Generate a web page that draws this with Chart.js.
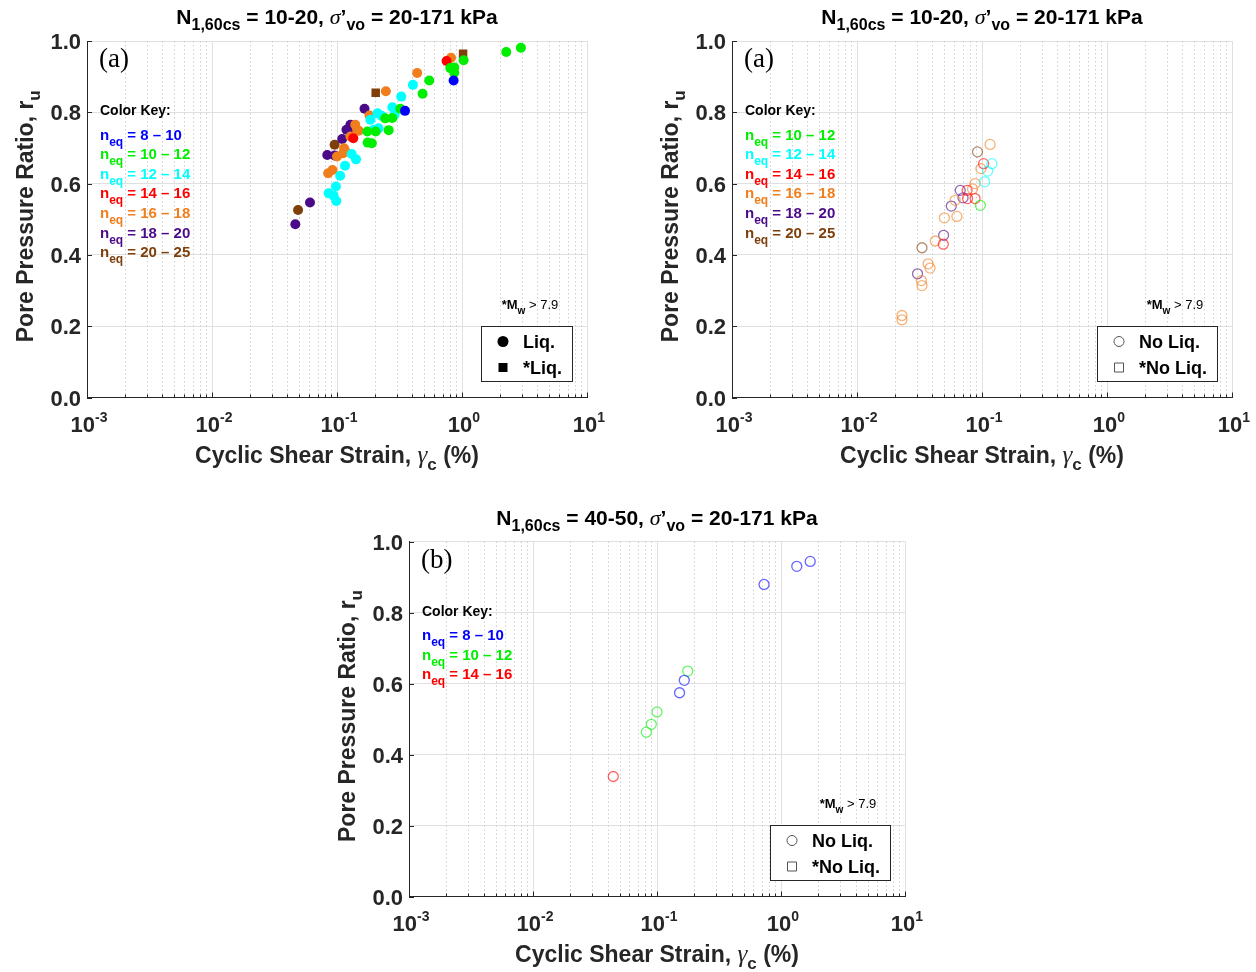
<!DOCTYPE html>
<html>
<head>
<meta charset="utf-8">
<script src="https://cdn.jsdelivr.net/npm/chart.js@4.4.1/dist/chart.umd.min.js"></script>
<style>
  html, body { margin: 0; padding: 0; background: #fff; }
  #wrap { position: relative; width: 1256px; height: 972px; }
  #wrap canvas { position: absolute; left: 0; top: 0; }
</style>
</head>
<body>
<div id="wrap">
  <canvas id="panelA" width="1256" height="972"></canvas>
  <canvas id="panelB" width="1256" height="972"></canvas>
  <canvas id="panelC" width="1256" height="972"></canvas>
</div>
<script>
// n_eq ranges and their colours
const neqLabels = ['8 \u2013 10', '10 \u2013 12', '12 \u2013 14', '14 \u2013 16', '16 \u2013 18', '18 \u2013 20', '20 \u2013 25'];
const neqColors = ['#0000ff', '#00ee00', '#00ffff', '#ff0000', '#f17e1c', '#4b0a88', '#7e3f0b'];

// axis ticks
const xTickValues = [0.001, 0.01, 0.1, 1, 10];
const xTickExponents = ['-3', '-2', '-1', '0', '1'];
const yTickValues = [0, 0.2, 0.4, 0.6, 0.8, 1.0];
const yTickLabels = ['0.0', '0.2', '0.4', '0.6', '0.8', '1.0'];

// N1,60cs = 10-20, liquefied sites (strain in %, ru)
const liq8to10Strain = [0.857, 0.35];
const liq8to10Ru = [0.889, 0.804];
const liq10to12Strain = [2.96, 2.26, 1.03, 0.806, 0.867, 0.867, 0.547, 0.484, 0.321, 0.277, 0.243, 0.259, 0.175, 0.204, 0.176, 0.190];
const liq10to12Ru = [0.981, 0.969, 0.946, 0.924, 0.926, 0.911, 0.889, 0.852, 0.810, 0.784, 0.783, 0.750, 0.746, 0.746, 0.715, 0.713];
const liq12to14Strain = [0.405, 0.327, 0.277, 0.289, 0.211, 0.228, 0.185, 0.215, 0.197, 0.131, 0.142, 0.116, 0.106, 0.098, 0.0857, 0.094, 0.0987];
const liq12to14Ru = [0.877, 0.844, 0.814, 0.793, 0.797, 0.790, 0.779, 0.755, 0.751, 0.683, 0.668, 0.650, 0.622, 0.592, 0.573, 0.566, 0.551];
const liq14to16Strain = [0.753, 0.135];
const liq14to16Ru = [0.944, 0.727];
const liq16to18Strain = [0.817, 0.438, 0.246, 0.182, 0.140, 0.145, 0.149, 0.128, 0.114, 0.117, 0.112, 0.100, 0.092, 0.085];
const liq16to18Ru = [0.953, 0.910, 0.859, 0.791, 0.765, 0.751, 0.748, 0.732, 0.699, 0.690, 0.685, 0.676, 0.638, 0.629];
const liq18to20Strain = [0.166, 0.128, 0.125, 0.119, 0.110, 0.0836, 0.0957, 0.0608, 0.0464];
const liq18to20Ru = [0.810, 0.765, 0.753, 0.751, 0.725, 0.680, 0.679, 0.547, 0.486];
const liq20to25Strain = [0.0957, 0.0488];
const liq20to25Ru = [0.709, 0.526];
// Mw > 7.9 events
const liqStar20to25Strain = [1.02, 0.204];
const liqStar20to25Ru = [0.964, 0.855];

// N1,60cs = 10-20, no liquefaction
const noLiq10to12Strain = [0.097];
const noLiq10to12Ru = [0.539];
const noLiq12to14Strain = [0.120, 0.111, 0.105];
const noLiq12to14Ru = [0.656, 0.635, 0.605];
const noLiq14to16Strain = [0.103, 0.076, 0.0767, 0.088, 0.049];
const noLiq14to16Ru = [0.656, 0.581, 0.558, 0.558, 0.430];
const noLiq16to18Strain = [0.116, 0.098, 0.088, 0.084, 0.061, 0.050, 0.063, 0.0423, 0.0371, 0.0384, 0.0327, 0.0331, 0.0229, 0.0229];
const noLiq16to18Ru = [0.710, 0.642, 0.600, 0.585, 0.553, 0.504, 0.508, 0.439, 0.375, 0.363, 0.328, 0.314, 0.230, 0.218];
const noLiq18to20Strain = [0.067, 0.0705, 0.0568, 0.0493, 0.0305];
const noLiq18to20Ru = [0.581, 0.560, 0.537, 0.455, 0.347];
const noLiq20to25Strain = [0.092, 0.0331];
const noLiq20to25Ru = [0.689, 0.420];

// N1,60cs = 40-50, no liquefaction
const dense8to10Strain = [0.73, 1.34, 1.72, 0.166, 0.152];
const dense8to10Ru = [0.879, 0.930, 0.944, 0.609, 0.574];
const dense10to12Strain = [0.177, 0.100, 0.090, 0.082];
const dense10to12Ru = [0.635, 0.520, 0.485, 0.463];
const dense14to16Strain = [0.0444];
const dense14to16Ru = [0.338];

const W = 1256, H = 972;
const SANS = '"Liberation Sans", Arial, sans-serif';
const SERIF = '"Liberation Serif", "Times New Roman", serif';
const INK = '#262626';

function font(size, opts) {
  opts = opts || {};
  return (opts.italic ? 'italic ' : '') + (opts.weight || 'bold') + ' ' + size + 'px ' + (opts.family || SANS);
}

// draws a row of text pieces (normal / sub / superscript) side by side
function drawRuns(ctx, runs, x, y, align) {
  let total = 0;
  runs.forEach(r => { ctx.font = r.font; r.w = ctx.measureText(r.t).width; total += r.w; });
  let cx = align === 'center' ? x - total / 2 : (align === 'right' ? x - total : x);
  ctx.textAlign = 'left';
  ctx.textBaseline = 'alphabetic';
  runs.forEach(r => {
    ctx.font = r.font;
    ctx.fillStyle = r.color || INK;
    ctx.fillText(r.t, cx, y + (r.dy || 0));
    cx += r.w;
  });
  return total;
}

function withAlpha(hex, a) {
  const n = parseInt(hex.slice(1), 16);
  return 'rgba(' + (n >> 16) + ',' + ((n >> 8) & 255) + ',' + (n & 255) + ',' + a + ')';
}

function group(strain, ru, colorIdx, square, open) {
  const c = neqColors[colorIdx];
  return {
    data: strain.map((v, i) => ({ x: v, y: ru[i] })),
    pointStyle: square ? 'rect' : 'circle',
    pointRadius: square ? 6 : 5,
    pointBackgroundColor: open ? 'rgba(0,0,0,0)' : c,
    pointBorderColor: open ? withAlpha(c, 0.6) : c,
    pointBorderWidth: open ? 1.3 : 0,
    showLine: false
  };
}

function titleRuns(nRange) {
  return [
    { t: 'N', font: font(21), color: '#000' },
    { t: '1,60cs', font: font(16), color: '#000', dy: 6 },
    { t: ' = ' + nRange + ', ', font: font(21), color: '#000' },
    { t: '\u03c3', font: font(22, { italic: true, weight: 'normal', family: SERIF }), color: '#000' },
    { t: '\u2019', font: font(21), color: '#000' },
    { t: 'vo', font: font(16), color: '#000', dy: 6 },
    { t: ' = 20-171 kPa', font: font(21), color: '#000' }
  ];
}

// text, ticks, key and legend around each panel
function makeDecor(cfg) {
  return {
    id: 'decor',
    beforeDatasetsDraw(chart) {
      const { ctx, chartArea: a, scales: { x } } = chart;
      ctx.save();
      ctx.strokeStyle = '#cfcfcf';
      ctx.lineWidth = 1;
      ctx.setLineDash([1.5, 2.5]);
      xTickValues.slice(0, -1).forEach(d => {
        for (let m = 2; m <= 9; m++) {
          const px = Math.round(x.getPixelForValue(d * m)) + 0.5;
          ctx.beginPath(); ctx.moveTo(px, a.top); ctx.lineTo(px, a.bottom - 1); ctx.stroke();
        }
      });
      ctx.restore();
    },
    afterDraw(chart) {
      const { ctx, chartArea: a, scales: { x, y } } = chart;
      const midX = (a.left + a.right) / 2, midY = (a.top + a.bottom) / 2;
      ctx.save();

      // inward tick marks
      ctx.strokeStyle = INK;
      ctx.lineWidth = 1;
      y.ticks.forEach(t => {
        const py = Math.round(y.getPixelForValue(t.value)) + 0.5;
        ctx.beginPath(); ctx.moveTo(a.left, py); ctx.lineTo(a.left + 5, py); ctx.stroke();
      });
      xTickValues.forEach((d, i) => {
        for (let m = 1; m <= (i < xTickValues.length - 1 ? 9 : 1); m++) {
          const px = Math.round(x.getPixelForValue(d * m)) + 0.5;
          ctx.beginPath(); ctx.moveTo(px, a.bottom); ctx.lineTo(px, a.bottom - (m === 1 ? 5 : 3)); ctx.stroke();
        }
      });

      // tick labels
      y.ticks.forEach((t, i) => {
        drawRuns(ctx, [{ t: yTickLabels[i], font: font(22) }], a.left - 6, y.getPixelForValue(t.value) + 8, 'right');
      });
      x.ticks.forEach((t, i) => {
        drawRuns(ctx, [
          { t: '10', font: font(22) },
          { t: xTickExponents[i], font: font(14) , dy: -10 }
        ], x.getPixelForValue(t.value) + 2, a.bottom + 34, 'center');
      });

      // title and axis titles
      drawRuns(ctx, titleRuns(cfg.nRange), midX, a.top - 17, 'center');
      drawRuns(ctx, [
        { t: 'Cyclic Shear Strain, ', font: font(23) },
        { t: '\u03b3', font: font(25, { italic: true, weight: 'normal', family: SERIF }) },
        { t: 'c', font: font(17), dy: 7 },
        { t: ' (%)', font: font(23) }
      ], midX, a.bottom + 65, 'center');
      ctx.save();
      ctx.translate(a.left - 54, midY - 3);
      ctx.rotate(-Math.PI / 2);
      drawRuns(ctx, [
        { t: 'Pore Pressure Ratio, r', font: font(23) },
        { t: 'u', font: font(17), dy: 7 }
      ], 0, 0, 'center');
      ctx.restore();

      // panel letter
      drawRuns(ctx, [{ t: cfg.letter, font: font(27, { weight: 'normal', family: SERIF }), color: '#000' }], a.left + 12, a.top + 26, 'left');

      // colour key
      drawRuns(ctx, [{ t: 'Color Key:', font: font(14), color: '#000' }], a.left + 13, a.top + 74, 'left');
      cfg.keys.forEach((k, i) => {
        const c = neqColors[k];
        drawRuns(ctx, [
          { t: 'n', font: font(15), color: c },
          { t: 'eq', font: font(12), color: c, dy: 6 },
          { t: ' = ' + neqLabels[k], font: font(15), color: c }
        ], a.left + 13, a.top + 98.5 + i * 19.6, 'left');
      });

      // magnitude note
      drawRuns(ctx, [
        { t: '*M', font: font(13), color: '#000' },
        { t: 'w', font: font(10), color: '#000', dy: 5 },
        { t: ' > 7.9', font: font(13, { weight: 'normal' }), color: '#000' }
      ], a.right - 57, a.bottom - 89, 'center');

      // marker legend
      ctx.font = font(18);
      const textW = Math.max(...cfg.legend.map(e => ctx.measureText(e.text).width));
      const boxR = a.right - 15, boxL = boxR - 42 - textW - 10, boxT = a.bottom - 72, boxB = a.bottom - 17;
      ctx.fillStyle = '#fff';
      ctx.fillRect(boxL, boxT, boxR - boxL, boxB - boxT);
      ctx.strokeStyle = INK;
      ctx.lineWidth = 1;
      ctx.strokeRect(Math.round(boxL) + 0.5, Math.round(boxT) + 0.5, Math.round(boxR - boxL), Math.round(boxB - boxT));
      cfg.legend.forEach((e, i) => {
        const cy = boxT + 16 + i * 26, mx = boxL + 22;
        ctx.beginPath();
        if (e.square) ctx.rect(mx - 4.5, cy - 4.5, 9, 9);
        else ctx.arc(mx, cy, e.filled ? 5.5 : 5, 0, Math.PI * 2);
        if (e.filled) { ctx.fillStyle = '#000'; ctx.fill(); }
        else { ctx.strokeStyle = '#555'; ctx.lineWidth = 1; ctx.stroke(); }
        drawRuns(ctx, [{ t: e.text, font: font(18), color: '#000' }], boxL + 42, cy + 6.5, 'left');
      });
      ctx.restore();
    }
  };
}

function makePanel(id, area, datasets, cfg) {
  new Chart(document.getElementById(id), {
    type: 'scatter',
    data: { datasets },
    options: {
      responsive: false,
      animation: false,
      devicePixelRatio: 1,
      events: [],
      layout: { autoPadding: false, padding: { left: area.left, top: area.top, right: W - area.right, bottom: H - area.bottom } },
      plugins: { legend: { display: false }, tooltip: { enabled: false } },
      scales: {
        x: {
          type: 'logarithmic', min: 0.001, max: 10,
          afterBuildTicks: s => { s.ticks = xTickValues.map(v => ({ value: v, major: true })); },
          afterFit: s => { s.height = 0; },
          ticks: { display: false },
          grid: { color: '#e0e0e0', lineWidth: 1, drawTicks: false },
          border: { color: INK, width: 1 }
        },
        y: {
          min: 0, max: 1,
          afterBuildTicks: s => { s.ticks = yTickValues.map(v => ({ value: v })); },
          afterFit: s => { s.width = 0; },
          ticks: { display: false },
          grid: { color: '#e0e0e0', lineWidth: 1, drawTicks: false },
          border: { color: INK, width: 1 }
        }
      }
    },
    plugins: [makeDecor(cfg)]
  });
}

makePanel('panelA', { left: 87, top: 41, right: 587, bottom: 397.5 }, [
  group(liq8to10Strain, liq8to10Ru, 0),
  group(liq10to12Strain, liq10to12Ru, 1),
  group(liq12to14Strain, liq12to14Ru, 2),
  group(liq14to16Strain, liq14to16Ru, 3),
  group(liq16to18Strain, liq16to18Ru, 4),
  group(liq18to20Strain, liq18to20Ru, 5),
  group(liq20to25Strain, liq20to25Ru, 6),
  group(liqStar20to25Strain, liqStar20to25Ru, 6, true)
], {
  nRange: '10-20', letter: '(a)', keys: [0, 1, 2, 3, 4, 5, 6],
  legend: [{ text: 'Liq.', filled: true }, { text: '*Liq.', filled: true, square: true }]
});

makePanel('panelB', { left: 732, top: 41, right: 1232, bottom: 397.5 }, [
  group(noLiq10to12Strain, noLiq10to12Ru, 1, false, true),
  group(noLiq12to14Strain, noLiq12to14Ru, 2, false, true),
  group(noLiq14to16Strain, noLiq14to16Ru, 3, false, true),
  group(noLiq16to18Strain, noLiq16to18Ru, 4, false, true),
  group(noLiq18to20Strain, noLiq18to20Ru, 5, false, true),
  group(noLiq20to25Strain, noLiq20to25Ru, 6, false, true)
], {
  nRange: '10-20', letter: '(a)', keys: [1, 2, 3, 4, 5, 6],
  legend: [{ text: 'No Liq.' }, { text: '*No Liq.', square: true }]
});

makePanel('panelC', { left: 409, top: 541.5, right: 905, bottom: 896.5 }, [
  group(dense8to10Strain, dense8to10Ru, 0, false, true),
  group(dense10to12Strain, dense10to12Ru, 1, false, true),
  group(dense14to16Strain, dense14to16Ru, 3, false, true)
], {
  nRange: '40-50', letter: '(b)', keys: [0, 1, 3],
  legend: [{ text: 'No Liq.' }, { text: '*No Liq.', square: true }]
});
</script>
</body>
</html>
